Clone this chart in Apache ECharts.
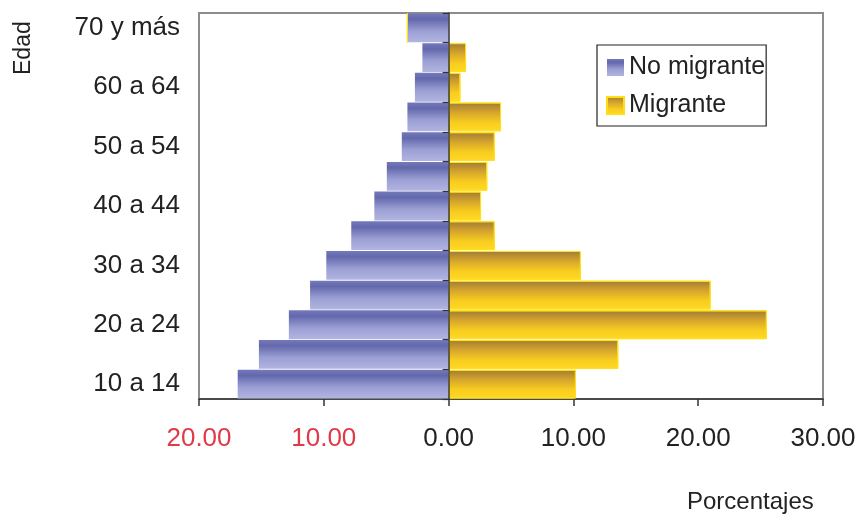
<!DOCTYPE html>
<html>
<head>
<meta charset="utf-8">
<script src="https://cdn.jsdelivr.net/npm/echarts@6/dist/echarts.min.js"></script>
<style>
html,body{margin:0;padding:0;background:#fff;}
#chart{width:859px;height:515px;}
</style>
</head>
<body>
<div id="chart"></div>
<script>
var categories = ['10 a 14','15 a 19','20 a 24','25 a 29','30 a 34','35 a 39','40 a 44','45 a 49','50 a 54','55 a 59','60 a 64','65 a 69','70 y más'];
var noMigrante = [16.9, 15.2, 12.8, 11.1, 9.8, 7.8, 5.95, 4.95, 3.75, 3.3, 2.7, 2.1, 3.3];
var migrante = [10.2, 13.6, 25.5, 21.0, 10.6, 3.7, 2.6, 3.1, 3.7, 4.2, 0.95, 1.4, 0];
var xTicks = [-20, -10, 0, 10, 20, 30];

var FONT = '"Liberation Sans", Arial, sans-serif';
var GRID_LEFT = 199;
var chart = echarts.init(document.getElementById('chart'), null, {renderer: 'canvas'});

var blueGrad = new echarts.graphic.LinearGradient(0, 0, 0, 1, [
  {offset: 0, color: '#7479bb'},
  {offset: 0.2, color: '#6368ac'},
  {offset: 0.6, color: '#9a9ed3'},
  {offset: 1, color: '#b2b5e1'}
]);
var goldGrad = new echarts.graphic.LinearGradient(0, 0, 0, 1, [
  {offset: 0, color: '#a07a38'},
  {offset: 0.35, color: '#d6a62c'},
  {offset: 0.7, color: '#f9cd1f'},
  {offset: 1, color: '#ffd826'}
]);

chart.setOption({
  animation: false,
  backgroundColor: '#fff',
  grid: {
    left: GRID_LEFT, right: 36, top: 13, bottom: 116,
    show: true, borderColor: '#8c8c8c', borderWidth: 2, backgroundColor: 'transparent'
  },
  legend: {
    orient: 'vertical',
    left: 597, top: 45,
    padding: [10, 1, 8, 9],
    itemGap: 13,
    itemWidth: 17, itemHeight: 17,
    borderColor: '#222', borderWidth: 1.2,
    backgroundColor: '#fff',
    selectedMode: false,
    textStyle: {fontSize: 25, color: '#222', fontFamily: FONT},
    data: [{name: 'No migrante', icon: 'rect'}, {name: 'Migrante', icon: 'rect'}]
  },
  xAxis: {
    type: 'value',
    min: xTicks[0], max: xTicks[xTicks.length - 1], interval: 10,
    splitLine: {show: false},
    axisLine: {show: true, onZero: false, lineStyle: {color: '#333', width: 1.5}},
    axisTick: {show: true, length: 7, lineStyle: {color: '#333', width: 1.5}},
    axisLabel: {
      margin: 27,
      fontSize: 26,
      fontFamily: FONT,
      formatter: function (v) { return Math.abs(v).toFixed(2); },
      color: function (v) { return Number(v) < 0 ? '#e03a48' : '#222'; }
    }
  },
  yAxis: [
    {
      type: 'category',
      data: categories,
      position: 'left',
      axisLine: {show: false, onZero: false},
      axisTick: {show: false},
      axisLabel: {interval: 1, margin: 19, fontSize: 26, color: '#222', fontFamily: FONT}
    },
    {
      type: 'category',
      data: categories,
      position: 'left',
      z: 10,
      offset: 0,
      axisLine: {show: true, onZero: false, lineStyle: {color: '#333', width: 1.5}},
      axisTick: {show: true, length: 6, lineStyle: {color: '#333', width: 1.2}},
      axisLabel: {show: false}
    }
  ],
  graphic: [
    {
      type: 'text', rotation: Math.PI / 2,
      x: 12, y: 75,
      style: {text: 'Edad', font: '23px ' + FONT, fill: '#222'}
    },
    {
      type: 'text', left: 687, top: 490,
      style: {text: 'Porcentajes', font: '24px ' + FONT, fill: '#222'}
    }
  ],
  series: [
    {
      name: 'No migrante',
      type: 'bar',
      stack: 'p',
      yAxisIndex: 0,
      barCategoryGap: '3%',
      itemStyle: {color: blueGrad},
      data: noMigrante.map(function (v) { return -v; })
    },
    {
      name: 'Migrante',
      type: 'bar',
      stack: 'p',
      yAxisIndex: 0,
      barCategoryGap: '3%',
      itemStyle: {color: goldGrad, borderColor: '#ffe016', borderWidth: 1},
      data: migrante
    }
  ]
});

// place the zero-line axis at x = 0 using the library's own scale
var zeroPx = chart.convertToPixel({xAxisIndex: 0}, 0);
chart.setOption({yAxis: [{}, {offset: -(zeroPx - GRID_LEFT)}]});
</script>
</body>
</html>
